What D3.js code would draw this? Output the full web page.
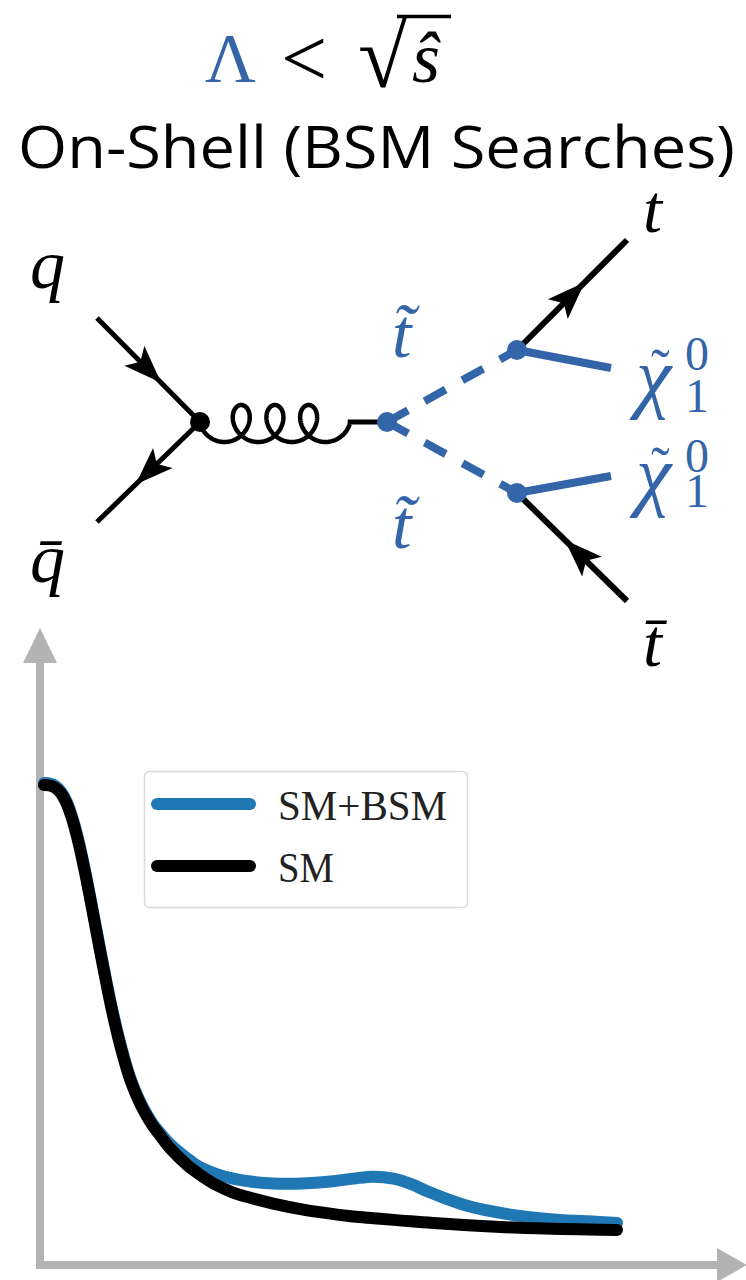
<!DOCTYPE html>
<html><head><meta charset="utf-8">
<script src="https://cdn.jsdelivr.net/npm/d3@7/dist/d3.min.js"></script>
<style>body{margin:0;background:#fff}svg{display:block}</style>
</head><body>
<svg id="c" width="746" height="1280"></svg>
<script>
// ---------- data ----------
const mass  = [0, 1, 2, 3, 4, 5, 6, 7, 8, 9, 10, 11, 12, 13, 14, 15, 16, 17, 18, 19, 20, 22, 25, 27, 30, 33, 36, 40, 45, 50, 54, 57.5, 61, 64, 67, 70, 74, 78, 82, 86, 90, 95, 100];
const sm    = [1.0, 0.999, 0.994, 0.982, 0.960, 0.926, 0.881, 0.827, 0.767, 0.704, 0.641, 0.580, 0.523, 0.472, 0.427, 0.388, 0.357, 0.331, 0.309, 0.290, 0.274, 0.243, 0.208, 0.190, 0.167, 0.151, 0.140, 0.128, 0.116, 0.107, 0.101, 0.0975, 0.094, 0.091, 0.0884, 0.086, 0.0828, 0.080, 0.078, 0.0766, 0.075, 0.074, 0.073];
const smBsm = [1.004, 1.003, 0.998, 0.986, 0.964, 0.930, 0.885, 0.831, 0.771, 0.708, 0.645, 0.584, 0.527, 0.476, 0.431, 0.392, 0.361, 0.335, 0.313, 0.294, 0.279, 0.252, 0.222, 0.205, 0.190, 0.180, 0.174, 0.170, 0.170, 0.174, 0.180, 0.184, 0.180, 0.169, 0.153, 0.139, 0.123, 0.112, 0.104, 0.098, 0.094, 0.091, 0.0875];
const seriesNames = ["SM+BSM", "SM"];
const seriesColors = ["#1f77b4", "#000000"];
const titleText = "On-Shell (BSM Searches)";

// ---------- setup ----------
const svg = d3.select("#c");
const blueD = "#3465a8";
const serif = "'Liberation Serif', 'DejaVu Serif', serif";

// ---------- title ----------
const math = svg.append("g");
math.append("text").attr("x", 205).attr("y", 82).attr("font-family", serif)
  .attr("font-size", 70).attr("fill", blueD).text("Λ");
math.append("text").attr("x", 281).attr("y", 86).attr("font-family", serif)
  .attr("font-size", 82).attr("fill", "#000").text("<");
math.append("text").attr("x", 358).attr("y", 87).attr("font-family", serif)
  .attr("font-size", 90).attr("fill", "#000").text("√");
math.append("line").attr("x1", 397).attr("x2", 451).attr("y1", 16.5).attr("y2", 16.5)
  .attr("stroke", "#000").attr("stroke-width", 3.5);
math.append("text").attr("x", 412).attr("y", 82).attr("font-family", serif)
  .attr("font-style", "italic").attr("font-size", 72).attr("fill", "#000").text("ŝ");

svg.append("text").attr("x", 18).attr("y", 168)
  .attr("font-family", "'Open Sans', 'Noto Sans', sans-serif")
  .attr("font-size", 58).attr("fill", "#000")
  .attr("textLength", 717).attr("lengthAdjust", "spacingAndGlyphs")
  .text(titleText);

// ---------- Feynman diagram ----------
const fd = svg.append("g");
function arrowHead(x1, y1, x2, y2, offset, L, Wd, color) {
  const dx = x2 - x1, dy = y2 - y1, len = Math.hypot(dx, dy);
  const ux = dx / len, uy = dy / len;
  const mx = (x1 + x2) / 2 + ux * offset, my = (y1 + y2) / 2 + uy * offset;
  const bx = mx - ux * L, by = my - uy * L;
  const px = -uy, py = ux;
  fd.append("path")
    .attr("d", `M${mx},${my}L${bx + px * Wd / 2},${by + py * Wd / 2}L${bx + ux * L * 0.22},${by + uy * L * 0.22}L${bx - px * Wd / 2},${by - py * Wd / 2}Z`)
    .attr("fill", color);
}
const vq = [200, 422], vs = [387, 422], vu = [517, 350], vl = [517, 493];
// quark lines
fd.append("line").attr("x1", 97).attr("y1", 318).attr("x2", vq[0]).attr("y2", vq[1])
  .attr("stroke", "#000").attr("stroke-width", 5);
fd.append("line").attr("x1", vq[0]).attr("y1", vq[1]).attr("x2", 97).attr("y2", 522)
  .attr("stroke", "#000").attr("stroke-width", 5);
arrowHead(97, 318, vq[0], vq[1], 18, 38, 28, "#000");
arrowHead(vq[0], vq[1], 97, 522, 18, 38, 28, "#000");
// gluon (curly line)
const gpts = [];
{
  const a = 16, s = 5.36, yc = 423.5, b = 18.5;
  for (let th = Math.PI / 2; th <= 7.5 * Math.PI + 1e-6; th += 0.04) {
    gpts.push([vq[0] + s * (th - Math.PI / 2) - a * (Math.sin(th) - 1), yc - b * Math.cos(th)]);
  }
}
fd.append("path").attr("d", d3.line()(gpts)).attr("fill", "none")
  .attr("stroke", "#000").attr("stroke-width", 4.5);
const gEnd = gpts[gpts.length - 1];
fd.append("line").attr("x1", gEnd[0] - 2).attr("y1", vs[1]).attr("x2", vs[0]).attr("y2", vs[1])
  .attr("stroke", "#000").attr("stroke-width", 5);
// stop lines (dashed)
[vu, vl].forEach(v => {
  fd.append("line").attr("x1", vs[0]).attr("y1", vs[1]).attr("x2", v[0]).attr("y2", v[1])
    .attr("stroke", blueD).attr("stroke-width", 8).attr("stroke-dasharray", "24,19");
});
// neutralino lines
fd.append("line").attr("x1", vu[0]).attr("y1", vu[1]).attr("x2", 611).attr("y2", 368)
  .attr("stroke", blueD).attr("stroke-width", 8);
fd.append("line").attr("x1", vl[0]).attr("y1", vl[1]).attr("x2", 611).attr("y2", 476)
  .attr("stroke", blueD).attr("stroke-width", 8);
// top lines
fd.append("line").attr("x1", vu[0]).attr("y1", vu[1]).attr("x2", 627).attr("y2", 240)
  .attr("stroke", "#000").attr("stroke-width", 6);
fd.append("line").attr("x1", vl[0]).attr("y1", vl[1]).attr("x2", 627).attr("y2", 601)
  .attr("stroke", "#000").attr("stroke-width", 6);
arrowHead(vu[0], vu[1], 627, 240, 18, 38, 28, "#000");
arrowHead(627, 601, vl[0], vl[1], 10, 38, 28, "#000");
// vertices
fd.append("circle").attr("cx", vq[0]).attr("cy", vq[1]).attr("r", 10).attr("fill", "#000");
[vs, vu, vl].forEach(v => fd.append("circle").attr("cx", v[0]).attr("cy", v[1]).attr("r", 10).attr("fill", blueD));
// labels
const lab = (x, y, t, color, size, italic) => fd.append("text").attr("x", x).attr("y", y)
  .attr("font-family", serif).attr("font-size", size).attr("fill", color)
  .attr("font-style", italic ? "italic" : "normal").text(t);
lab(30, 288, "q", "#000", 70, true);
lab(30, 582, "q\u0304", "#000", 70, true);
lab(643, 232, "t", "#000", 68, true);
lab(643, 666, "t\u0304", "#000", 68, true);
lab(392, 357, "t\u0303", blueD, 70, true);
lab(392, 548, "t\u0303", blueD, 70, true);
// neutralino labels: one text element each, parts as tspans
[[403, 370, 412], [501, 472, 507]].forEach(([yb, ys, yi]) => {
  const t = fd.append("text").attr("font-family", serif).attr("fill", blueD);
  t.append("tspan").attr("x", 636).attr("y", yb).attr("font-size", 80).attr("font-style", "italic").text("χ");
  t.append("tspan").attr("x", 651).attr("y", yb - 15).attr("font-size", 56).text("˜");
  t.append("tspan").attr("x", 685).attr("y", ys).attr("font-size", 48).text("0");
  t.append("tspan").attr("x", 685).attr("y", yi).attr("font-size", 48).text("1");
});

// ---------- chart ----------
const x = d3.scaleLinear().domain([0, 100]).range([44, 617]);
const y = d3.scaleLinear().domain([0, 1]).range([1265, 785]);
const axisColor = "#b3b3b3";
const ax0 = x(0) - 4, ay0 = y(0);
// y axis
svg.append("line").attr("x1", ax0).attr("x2", ax0).attr("y1", ay0 + 4).attr("y2", 660)
  .attr("stroke", axisColor).attr("stroke-width", 8);
svg.append("path").attr("d", `M${ax0 - 17},663L${ax0 + 17},663L${ax0},628Z`).attr("fill", axisColor);
// x axis
svg.append("line").attr("x1", ax0 - 4).attr("x2", 719).attr("y1", ay0).attr("y2", ay0)
  .attr("stroke", axisColor).attr("stroke-width", 8);
svg.append("path").attr("d", `M717,${ay0 - 17}L717,${ay0 + 17}L747,${ay0}Z`).attr("fill", axisColor);

const line = d3.line().x((d, i) => x(mass[i])).y(d => y(d)).curve(d3.curveCatmullRom.alpha(0.5));
[smBsm, sm].forEach((s, k) => {
  svg.append("path").attr("d", line(s)).attr("fill", "none")
    .attr("stroke", seriesColors[k]).attr("stroke-width", 12)
    .attr("stroke-linecap", "round").attr("stroke-linejoin", "round");
});

// legend
const lg = svg.append("g");
lg.append("rect").attr("x", 144.5).attr("y", 771.5).attr("width", 323).attr("height", 136)
  .attr("rx", 5).attr("fill", "#fff").attr("stroke", "#d9d9d9").attr("stroke-width", 1.5);
seriesNames.forEach((n, i) => {
  const yy = 804 + i * 62;
  lg.append("line").attr("x1", 157).attr("x2", 250).attr("y1", yy).attr("y2", yy)
    .attr("stroke", seriesColors[i]).attr("stroke-width", 12).attr("stroke-linecap", "round");
  lg.append("text").attr("x", 278).attr("y", yy + 16)
    .attr("font-family", serif).attr("font-size", 42).attr("fill", "#222")
    .attr("textLength", i === 0 ? 169 : 56).attr("lengthAdjust", "spacingAndGlyphs").text(n);
});
</script>
</body></html>
